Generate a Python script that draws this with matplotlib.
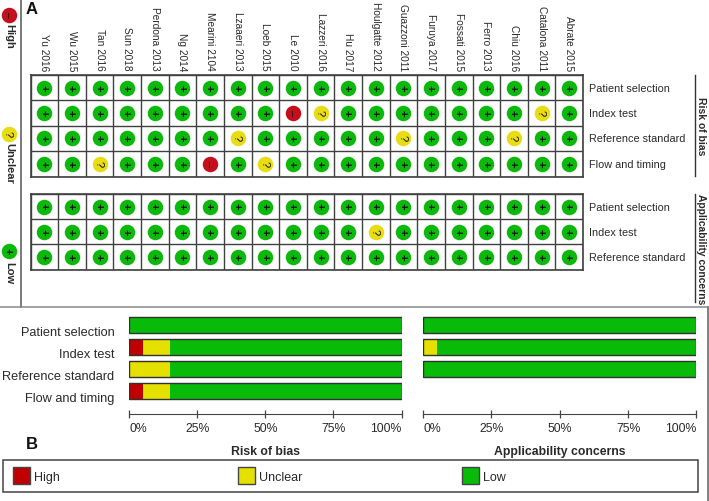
import numpy as np
import matplotlib
matplotlib.use("Agg")
import matplotlib.pyplot as plt
from matplotlib.patches import Rectangle

plt.rcParams['font.family'] = ['Liberation Sans', 'DejaVu Sans']

W, H = 709, 502

studies = ["Yu 2016", "Wu 2015", "Tan 2016", "Sun 2018", "Perdona 2013", "Ng 2014",
           "Mearini 2104", "Lzaaeri 2013", "Loeb 2015", "Le 2010", "Lazzeri 2016", "Hu 2017",
           "Houlgatte 2012", "Guazzoni 2011", "Furuya 2017", "Fossati 2015", "Ferro 2013",
           "Chiu 2016", "Catalona 2011", "Abrate 2015"]

# + low, ? unclear, - high
bias_domains = ["Patient selection", "Index test", "Reference standard", "Flow and timing"]
bias_grid = ["++++++++++++++++++++",
             "+++++++++-?+++++++?+",
             "+++++++?+++++?+++?++",
             "++?+++-+?+++++++++++"]
appl_domains = ["Patient selection", "Index test", "Reference standard"]
appl_grid = ["++++++++++++++++++++",
             "++++++++++++?+++++++",
             "++++++++++++++++++++"]

bias_high = [0, 5, 0, 5]
bias_unclear = [0, 10, 15, 10]
bias_low = [100, 85, 85, 85]
appl_high = [0, 0, 0]
appl_unclear = [0, 5, 0]
appl_low = [100, 95, 100]
pct_ticks = [0, 25, 50, 75, 100]
pct_labels = ["0%", "25%", "50%", "75%", "100%"]

RED, YELLOW, GREEN = "#c00000", "#e6e000", "#08bb08"
DOT = {"+": "#0cb80c", "?": "#e8dc14", "-": "#c4101c"}
SIGN = {"+": "+", "?": "?", "-": "\u2013"}
TXT = "#2a2a2a"


def px_axes(fig, x0, y0, x1, y1):
    # axes from pixel box, y measured from the top
    return fig.add_axes([x0 / W, 1 - y1 / H, (x1 - x0) / W, (y1 - y0) / H])


def dot(ax, x, y, sym, size=15.5, fs=8):
    ax.scatter([x], [y], s=(size * 0.72) ** 2, color=DOT[sym], linewidths=0, zorder=3, clip_on=False)
    # small offset, the rotated glyph is not centred in its text box
    ax.annotate(SIGN[sym], (x, y), xytext=(-0.9, 0.6), textcoords="offset points",
                ha="center", va="center", rotation=-90, fontsize=fs, color="#111111",
                fontweight="bold" if sym == "+" else "normal", zorder=4)


def draw_grid(ax, grid, domains):
    nrow, ncol = len(grid), len(grid[0])
    ax.set_xlim(0, ncol)
    ax.set_ylim(nrow, 0)
    ax.set_xticks(np.arange(ncol + 1))
    ax.set_yticks(np.arange(nrow + 1))
    ax.tick_params(length=0, labelbottom=False, labelleft=False)
    ax.grid(True, color="#404040", lw=1.0)
    ax.set_axisbelow(True)
    for s in ax.spines.values():
        s.set_color("#404040")
        s.set_linewidth(1.2)
    for r, row in enumerate(grid):
        for c, sym in enumerate(row):
            dot(ax, c + 0.5, r + 0.5, sym)
        ax.text(ncol + 0.2, r + 0.5, domains[r], va="center", ha="left", fontsize=7.8,
                color=TXT, clip_on=False)


def draw_bars(ax, high, unclear, low, labels, title):
    y = np.arange(len(high))
    high, unclear, low = np.array(high), np.array(unclear), np.array(low)
    ax.barh(y, low + unclear + high, height=0.73, color=GREEN, lw=0)
    ax.barh(y, unclear + high, height=0.73, color=YELLOW, lw=0)
    ax.barh(y, high, height=0.73, color=RED, lw=0)
    ax.barh(y, low + unclear + high, height=0.73, fill=False, edgecolor="#303030", lw=1.0)
    ax.set_xlim(0, 100)
    ax.set_ylim(3.5, -0.5)
    # moving the spine resets the ticks, so this comes before the tick setup
    ax.spines["bottom"].set_position(("outward", 8.3))
    ax.spines["bottom"].set_color("#444444")
    for side in ["top", "left", "right"]:
        ax.spines[side].set_visible(False)
    # the row names sit a little lower than their bars
    ax.set_yticks(y + 0.23 if labels else [])
    if labels:
        ax.set_yticklabels(labels, fontsize=9.2, color=TXT)
    ax.tick_params(axis="y", length=0, pad=10.4)
    ax.set_xticks(pct_ticks)
    ax.set_xticklabels(pct_labels, fontsize=8.8, color=TXT)
    ax.tick_params(axis="x", direction="inout", length=5.8, width=0.9, color="#444444", pad=3)
    ticklabels = ax.get_xticklabels()
    ticklabels[0].set_ha("left")
    ticklabels[-1].set_ha("right")
    ax.set_xlabel(title, fontsize=8.8, fontweight="bold", color=TXT, labelpad=8)
    ax.patch.set_alpha(0)


fig = plt.figure(figsize=(W / 100, H / 100), dpi=100)

# whole figure overlay in pixels, for frame lines and legends
bg = fig.add_axes([0, 0, 1, 1])
bg.set_xlim(0, W)
bg.set_ylim(H, 0)
bg.axis("off")
bg.plot([21, 21], [0, 308], color="#555555", lw=1.1)
bg.plot([0, 708], [308, 308], color="#888888", lw=1.1)
bg.plot([708, 708], [308, 502], color="#808080", lw=1.4)
bg.add_patch(Rectangle((3, 460.5), 695, 32, fc="white", ec="#444444", lw=1.1))

# panel letters
bg.text(26, 9.5, "A", fontsize=12, fontweight="bold", ha="left", va="center", color="#111111")
bg.text(26, 444.5, "B", fontsize=12, fontweight="bold", ha="left", va="center", color="#111111")

# rotated key on the left
for ypos, sym, name, ty in [(15.5, "-", "High", 36), (134.5, "?", "Unclear", 163), (252, "+", "Low", 273)]:
    dot(bg, 9, ypos, sym)
    bg.text(9, ty, name, rotation=-90, ha="center", va="center", fontsize=8,
            fontweight="bold", color=TXT)

# bottom legend
for x, col, name in [(13, RED, "High"), (238, YELLOW, "Unclear"), (462, GREEN, "Low")]:
    bg.add_patch(Rectangle((x, 468), 17, 17, fc=col, ec="#444444", lw=1.0))
    bg.text(x + 21, 478, name, fontsize=9, va="center", ha="left", color=TXT)

# right side group titles
bg.plot([695, 695], [76, 177], color="#333333", lw=1.0)
bg.plot([695, 695], [195, 303], color="#333333", lw=1.0)
bg.text(700.5, 126, "Risk of bias", rotation=-90, ha="center", va="center", fontsize=7.5,
        fontweight="bold", color=TXT)
bg.text(700.5, 249, "Applicability concerns", rotation=-90, ha="center", va="center", fontsize=7.4,
        fontweight="bold", color=TXT)

ax_top = px_axes(fig, 30.5, 76, 583, 177.5)
draw_grid(ax_top, bias_grid, bias_domains)
ax_low = px_axes(fig, 30.5, 195, 583, 270.5)
draw_grid(ax_low, appl_grid, appl_domains)

# study names above the columns
for c, name in enumerate(studies):
    ax_top.text(c + 0.5, -0.2, name, rotation=-90, ha="center", va="bottom", fontsize=7.3,
                color=TXT, clip_on=False)

ax_b1 = px_axes(fig, 129, 315, 401.5, 403)
draw_bars(ax_b1, bias_high, bias_unclear, bias_low, bias_domains, "Risk of bias")
ax_b2 = px_axes(fig, 423, 315, 696.5, 403)
draw_bars(ax_b2, appl_high, appl_unclear, appl_low, None, "Applicability concerns")

fig.savefig("out.png", dpi=100)
